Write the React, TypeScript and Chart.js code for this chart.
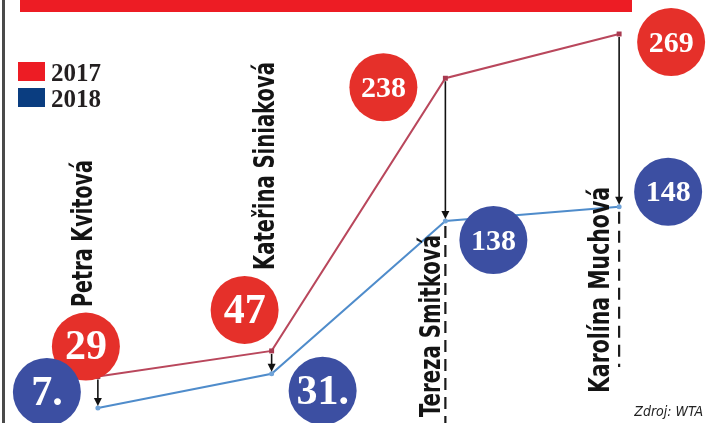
import React, { useEffect, useRef } from "react";
import { Chart, registerables } from "chart.js";

Chart.register(...registerables);

// ---- data ----
const categories = ["Petra Kvitová", "Kateřina Siniaková", "Tereza Smitková", "Karolína Muchová"];
const rank2017 = [29, 47, 238, 269];
const rank2018 = [7, 31, 138, 148];
const badge2017 = ["29", "47", "238", "269"];
const badge2018 = ["7.", "31.", "138", "148"];
const seriesNames = ["2017", "2018"];
const sourceNote = "Zdroj: WTA";

const RED = "#e5302a";
const BLUE = "#3c4fa2";
const LEGEND_RED = "#ed1c24";
const LEGEND_BLUE = "#0a3d80";
const NAME_FONT = "'Liberation Sans Narrow', 'DejaVu Sans Condensed', 'Roboto', sans-serif";
const SERIF = "'Liberation Serif', 'DejaVu Serif', serif";

const decorPlugin = {
  id: "decor",
  beforeDraw(chart: any) {
    const ctx = chart.ctx;
    ctx.save();
    ctx.fillStyle = "#ffffff";
    ctx.fillRect(0, 0, chart.width, chart.height);
    // red banner
    ctx.fillStyle = "#ed1c24";
    ctx.fillRect(20, 0, 612, 12);
    // left frame
    ctx.fillStyle = "#4a4a4a";
    ctx.fillRect(2, 0, 3, chart.height);
    ctx.restore();
  },
  afterDatasetsDraw(chart: any, _a: any, opts: any) {
    const ctx = chart.ctx;
    const m17 = chart.getDatasetMeta(0).data;
    const m18 = chart.getDatasetMeta(1).data;
    const labels = chart.data.labels;
    ctx.save();

    // dashed guide lines under last two players
    ctx.strokeStyle = "#1a1a1a";
    ctx.lineWidth = 2.2;
    ctx.setLineDash([12, 7]);
    opts.dashEnds.forEach((end: number | null, i: number) => {
      if (end == null) return;
      const p = m18[i];
      ctx.beginPath();
      ctx.moveTo(p.x, p.y + 5);
      ctx.lineTo(p.x, end);
      ctx.stroke();
    });
    ctx.setLineDash([]);

    // arrows from 2017 to 2018
    m17.forEach((p: any, i: number) => {
      const q = m18[i];
      const tipY = q.y - 2;
      ctx.strokeStyle = "#111";
      ctx.lineWidth = 1.6;
      ctx.beginPath();
      ctx.moveTo(p.x, p.y + 3);
      ctx.lineTo(p.x, tipY - 6);
      ctx.stroke();
      ctx.fillStyle = "#111";
      ctx.beginPath();
      ctx.moveTo(p.x - 4, tipY - 8);
      ctx.lineTo(p.x + 4, tipY - 8);
      ctx.lineTo(p.x, tipY);
      ctx.closePath();
      ctx.fill();
    });

    // player names (vertical)
    ctx.fillStyle = "#141414";
    ctx.font = `bold 28px ${NAME_FONT}`;
    ctx.textBaseline = "alphabetic";
    ctx.textAlign = "left";
    labels.forEach((name: string, i: number) => {
      const x = chart.scales.x.getPixelForValue(i) + opts.nameDx[i];
      const y = opts.nameBottom[i];
      const w = ctx.measureText(name).width;
      const target = opts.nameLen[i];
      ctx.save();
      ctx.translate(x, y);
      ctx.rotate(-Math.PI / 2);
      ctx.scale(target / w, 1);
      ctx.fillText(name, 0, 0);
      ctx.restore();
    });

    // badges
    const drawBadge = (p: any, off: number[], text: string, color: string) => {
      const cx = p.x + off[0];
      const cy = p.y + off[1];
      ctx.fillStyle = color;
      ctx.beginPath();
      ctx.arc(cx, cy, 34, 0, Math.PI * 2);
      ctx.fill();
      ctx.fillStyle = "#ffffff";
      ctx.textAlign = "center";
      ctx.textBaseline = "middle";
      const digits = text.replace(/\D/g, "").length;
      const size = digits >= 3 ? 30 : 42;
      ctx.font = `bold ${size}px ${SERIF}`;
      ctx.fillText(text, cx, cy + 2);
    };
    m17.forEach((p: any, i: number) => drawBadge(p, opts.off17[i], badge2017[i], RED));
    m18.forEach((p: any, i: number) => drawBadge(p, opts.off18[i], badge2018[i], BLUE));

    // legend
    const legendColors = [LEGEND_RED, LEGEND_BLUE];
    seriesNames.forEach((s, i) => {
      const y = 62 + i * 26;
      ctx.fillStyle = legendColors[i];
      ctx.fillRect(18, y, 27, 19);
      ctx.fillStyle = "#231f20";
      ctx.font = `bold 25px ${SERIF}`;
      ctx.textAlign = "left";
      ctx.textBaseline = "alphabetic";
      ctx.fillText(s, 51, y + 19);
    });

    // source
    ctx.fillStyle = "#222";
    ctx.font = `italic 14px ${NAME_FONT}`;
    ctx.textAlign = "right";
    ctx.textBaseline = "alphabetic";
    ctx.fillText(sourceNote, 703, 416);

    ctx.restore();
  },
};

export default function App() {
  const ref = useRef<HTMLCanvasElement | null>(null);
  useEffect(() => {
    if (!ref.current) return;
    const chart = new Chart(ref.current, {
      type: "line",
      data: {
        labels: categories,
        datasets: [
          {
            label: seriesNames[0],
            data: rank2017,
            borderColor: "#b9475c",
            backgroundColor: "#a83a50",
            borderWidth: 2,
            pointStyle: "rect",
            pointRadius: 3.5,
            pointBorderWidth: 0,
            tension: 0,
            clip: false as any,
          },
          {
            label: seriesNames[1],
            data: rank2018,
            borderColor: "#4f8ccb",
            backgroundColor: "#6fa3d8",
            borderWidth: 2,
            pointStyle: "circle",
            pointRadius: 2.5,
            pointBorderWidth: 0,
            tension: 0,
            clip: false as any,
          },
        ],
      },
      options: {
        responsive: false,
        animation: false,
        devicePixelRatio: 1,
        layout: { padding: { left: 11, right: 0, top: 0, bottom: 5 } },
        scales: {
          x: { type: "category", offset: true, display: false },
          y: { min: 0, max: 290, display: false },
        },
        plugins: {
          legend: { display: false },
          tooltip: { enabled: false },
          decor: {
            off17: [[-12, -30], [-27, -41], [-62, 9], [52, 8]],
            off18: [[-51, -16], [51, 17], [48, 19], [49, -15]],
            nameDx: [-6, 2, -5, -10],
            nameBottom: [307, 270, 417, 393],
            nameLen: [147, 208, 182, 206],
            dashEnds: [null, null, 423, 367],
          },
        } as any,
      },
      plugins: [decorPlugin],
    });
    return () => chart.destroy();
  }, []);
  return (
    <div style={{ position: "fixed", left: 0, top: 0, width: 710, height: 423, background: "#fff" }}>
      <canvas ref={ref} width={710} height={423} style={{ display: "block" }} />
    </div>
  );
}
